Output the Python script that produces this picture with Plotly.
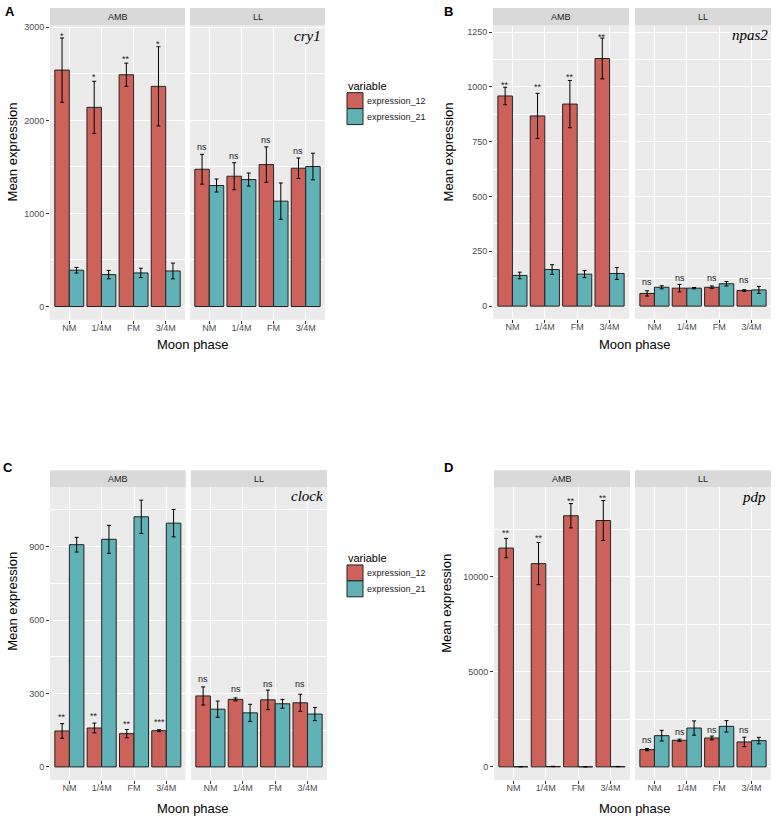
import plotly.graph_objects as go

W, H = 784, 819

phases = ["NM", "1/4M", "FM", "3/4M"]
series_names = ["expression_12", "expression_21"]
genes = ["cry1", "npas2", "clock", "pdp"]
panel_letters = ["A", "B", "C", "D"]

# ---- cry1 (A)
cry1_amb_12 = [2540, 2140, 2490, 2365]
cry1_amb_12_err = [345, 280, 125, 425]
cry1_amb_21 = [390, 343, 361, 382]
cry1_amb_21_err = [30, 45, 50, 85]
cry1_ll_12 = [1475, 1400, 1525, 1486]
cry1_ll_12_err = [160, 145, 190, 110]
cry1_ll_21 = [1300, 1364, 1132, 1504]
cry1_ll_21_err = [70, 70, 195, 143]
cry1_amb_sig = ["*", "*", "**", "*"]
cry1_amb_sig_y = [2939, 2500, 2689, 2850]
cry1_ll_sig = ["ns", "ns", "ns", "ns"]
cry1_ll_sig_y = [1718, 1618, 1789, 1671]

# ---- npas2 (B)
npas2_amb_12 = [959, 868, 922, 1130]
npas2_amb_12_err = [40, 103, 108, 93]
npas2_amb_21 = [140, 167, 146, 149]
npas2_amb_21_err = [15, 22, 16, 27]
npas2_ll_12 = [58, 82, 86, 71]
npas2_ll_12_err = [12, 17, 6, 4]
npas2_ll_21 = [86, 82, 102, 74]
npas2_ll_21_err = [7, 3, 10, 16]
npas2_amb_sig = ["**", "**", "**", "**"]
npas2_amb_sig_y = [1024, 1013, 1060, 1244]
npas2_ll_sig = ["ns", "ns", "ns", "ns"]
npas2_ll_sig_y = [109, 129, 129, 120]

# ---- clock (C)
clock_amb_12 = [147, 159, 136, 148]
clock_amb_12_err = [30, 20, 17, 4]
clock_amb_21 = [908, 930, 1022, 996]
clock_amb_21_err = [30, 57, 68, 56]
clock_ll_12 = [290, 276, 274, 262]
clock_ll_12_err = [37, 6, 40, 35]
clock_ll_21 = [236, 221, 258, 216]
clock_ll_21_err = [33, 35, 18, 27]
clock_amb_sig = ["**", "**", "**", "***"]
clock_amb_sig_y = [217, 221, 187, 197]
clock_ll_sig = ["ns", "ns", "ns", "ns"]
clock_ll_sig_y = [360, 319, 338, 337]

# ---- pdp (D)
pdp_amb_12 = [11520, 10700, 13220, 12970]
pdp_amb_12_err = [507, 1110, 640, 1050]
pdp_amb_21 = [10, 20, 5, 15]
pdp_amb_21_err = [5, 10, 3, 8]
pdp_ll_12 = [909, 1399, 1521, 1311]
pdp_ll_12_err = [60, 60, 100, 250]
pdp_ll_21 = [1643, 2045, 2133, 1381]
pdp_ll_21_err = [280, 375, 300, 170]
pdp_amb_sig = ["**", "**", "**", "**"]
pdp_amb_sig_y = [12448, 12220, 14143, 14318]
pdp_ll_sig = ["ns", "ns", "ns", "ns"]
pdp_ll_sig_y = [1434, 1836, 1923, 1958]

y_ranges = [[-143, 3018], [-58, 1280], [-54, 1144], [-699, 14738]]
y_dticks = [1000, 250, 300, 5000]

data = [
    dict(amb=[(cry1_amb_12, cry1_amb_12_err), (cry1_amb_21, cry1_amb_21_err)],
         ll=[(cry1_ll_12, cry1_ll_12_err), (cry1_ll_21, cry1_ll_21_err)],
         amb_sig=(cry1_amb_sig, cry1_amb_sig_y), ll_sig=(cry1_ll_sig, cry1_ll_sig_y)),
    dict(amb=[(npas2_amb_12, npas2_amb_12_err), (npas2_amb_21, npas2_amb_21_err)],
         ll=[(npas2_ll_12, npas2_ll_12_err), (npas2_ll_21, npas2_ll_21_err)],
         amb_sig=(npas2_amb_sig, npas2_amb_sig_y), ll_sig=(npas2_ll_sig, npas2_ll_sig_y)),
    dict(amb=[(clock_amb_12, clock_amb_12_err), (clock_amb_21, clock_amb_21_err)],
         ll=[(clock_ll_12, clock_ll_12_err), (clock_ll_21, clock_ll_21_err)],
         amb_sig=(clock_amb_sig, clock_amb_sig_y), ll_sig=(clock_ll_sig, clock_ll_sig_y)),
    dict(amb=[(pdp_amb_12, pdp_amb_12_err), (pdp_amb_21, pdp_amb_21_err)],
         ll=[(pdp_ll_12, pdp_ll_12_err), (pdp_ll_21, pdp_ll_21_err)],
         amb_sig=(pdp_amb_sig, pdp_amb_sig_y), ll_sig=(pdp_ll_sig, pdp_ll_sig_y)),
]

# ---- layout geometry (pixels)
panels = [
    dict(amb=(50, 185), ll=(190, 325), plot=(22.7, 318), strip=(5, 22.7),
         ytitle=(12, 150), xtitle=(193, 343), letter=(10, 9), gene=(323, 33),
         legend=(347, 83)),
    dict(amb=(493, 629), ll=(635, 771), plot=(22.7, 317), strip=(5, 22.7),
         ytitle=(448, 150), xtitle=(635, 343), letter=(448, 9), gene=(770, 32),
         legend=None),
    dict(amb=(50, 185.7), ll=(191, 327), plot=(485.7, 780), strip=(469, 485.7),
         ytitle=(13, 601), xtitle=(193, 808), letter=(8, 466), gene=(325, 495),
         legend=(347, 557)),
    dict(amb=(494, 630), ll=(635, 771), plot=(485.7, 780), strip=(469, 485.7),
         ytitle=(447, 603), xtitle=(635, 808), letter=(448, 466), gene=(768, 496),
         legend=None),
]

colors = ["#CD625B", "#60B2B6"]
FONT = "Liberation Sans"

def px(x):
    return x / W

def py(y):
    return 1 - y / H

fig = go.Figure()
layout = dict(
    width=W, height=H, margin=dict(l=0, r=0, t=0, b=0),
    paper_bgcolor="white", plot_bgcolor="#EBEBEB",
    barmode="group", bargap=0.1, bargroupgap=0, showlegend=False,
    font=dict(family=FONT, color="#1A1A1A"),
)
shapes = []
annotations = []

for p, (spec, d) in enumerate(zip(panels, data)):
    for f, facet in enumerate(["amb", "ll"]):
        k = 2 * p + f + 1
        xname = "x" if k == 1 else f"x{k}"
        yname = "y" if k == 1 else f"y{k}"
        for s in range(2):
            vals, errs = d[facet][s]
            fig.add_trace(go.Bar(
                x=phases, y=vals, name=series_names[s],
                xaxis=xname, yaxis=yname,
                marker=dict(color=colors[s], line=dict(color="#222222", width=1)),
                error_y=dict(type="data", array=errs, color="black", thickness=1, width=2),
            ))
        x0, x1 = spec[facet]
        top, bot = spec["plot"]
        xa = dict(domain=[px(x0), px(x1)], anchor=yname, type="category",
                  range=[-0.6, 3.6], showgrid=True, gridcolor="white", gridwidth=1.1,
                  ticks="outside", ticklen=3, tickcolor="#333333", tickwidth=1,
                  ticklabelstandoff=-4,
                  tickfont=dict(size=9, color="#4D4D4D", family=FONT),
                  showline=False, zeroline=False, fixedrange=True)
        ya = dict(domain=[py(bot), py(top)], anchor=xname, range=y_ranges[p],
                  tick0=0, dtick=y_dticks[p], tickformat="d",
                  showgrid=True, gridcolor="white", gridwidth=1.1,
                  minor=dict(dtick=y_dticks[p] / 2, showgrid=True, gridcolor="white", gridwidth=0.5),
                  zeroline=False, showline=False, fixedrange=True)
        if f == 0:
            ya.update(ticks="outside", ticklen=3, tickcolor="#333333", tickwidth=1,
                      tickfont=dict(size=9, color="#4D4D4D", family=FONT))
        else:
            ya.update(showticklabels=False, ticks="")
        layout["xaxis" if k == 1 else f"xaxis{k}"] = xa
        layout["yaxis" if k == 1 else f"yaxis{k}"] = ya

        # strip
        s0, s1 = spec["strip"]
        shapes.append(dict(type="rect", xref="paper", yref="paper",
                           x0=px(x0), x1=px(x1), y0=py(s1), y1=py(s0),
                           fillcolor="#D9D9D9", line=dict(width=0), layer="below"))
        annotations.append(dict(text="AMB" if f == 0 else "LL", xref="paper", yref="paper",
                                x=px((x0 + x1) / 2), y=py((s0 + s1) / 2),
                                xanchor="center", yanchor="middle", showarrow=False,
                                font=dict(size=9, color="#1A1A1A", family=FONT)))
        # significance labels
        labels, ly = d[facet + "_sig"]
        for i, (lab, yv) in enumerate(zip(labels, ly)):
            annotations.append(dict(text=lab, xref=xname, yref=yname, x=i - 0.225, y=yv,
                                    xanchor="center", yanchor="middle", showarrow=False,
                                    yshift=-3 if "*" in lab else 0,
                                    font=dict(size=9, color="#1A1A1A", family=FONT)))

    # gene label
    gx, gy = spec["gene"]
    annotations.append(dict(text=f"<i>{genes[p]}</i>", xref="paper", yref="paper",
                            x=px(gx), y=py(gy), xanchor="right", yanchor="middle",
                            showarrow=False,
                            font=dict(size=15, color="black", family="Liberation Serif")))
    # axis titles
    tx, ty = spec["ytitle"]
    annotations.append(dict(text="Mean expression", xref="paper", yref="paper",
                            x=px(tx), y=py(ty), xanchor="center", yanchor="middle",
                            textangle=-90, showarrow=False,
                            font=dict(size=13, color="black", family=FONT)))
    tx, ty = spec["xtitle"]
    annotations.append(dict(text="Moon phase", xref="paper", yref="paper",
                            x=px(tx), y=py(ty), xanchor="center", yanchor="middle",
                            showarrow=False,
                            font=dict(size=13, color="black", family=FONT)))
    lx, ly_ = spec["letter"]
    annotations.append(dict(text=f"<b>{panel_letters[p]}</b>", xref="paper", yref="paper",
                            x=px(lx), y=py(ly_), xanchor="center", yanchor="middle",
                            showarrow=False,
                            font=dict(size=13, color="black", family=FONT)))
    # legend (drawn as keys + labels, ggplot style)
    if spec["legend"] is not None:
        lgx, lgy = spec["legend"]
        annotations.append(dict(text="variable", xref="paper", yref="paper",
                                x=px(lgx - 1), y=py(lgy), xanchor="left", yanchor="middle",
                                showarrow=False,
                                font=dict(size=11, color="black", family=FONT)))
        for s in range(2):
            ktop = lgy + 7 + 16 * s
            shapes.append(dict(type="rect", xref="paper", yref="paper",
                               x0=px(lgx), x1=px(lgx + 16), y0=py(ktop + 16), y1=py(ktop),
                               fillcolor=colors[s], line=dict(color="#222222", width=1)))
            annotations.append(dict(text=series_names[s], xref="paper", yref="paper",
                                    x=px(lgx + 18), y=py(ktop + 8), xanchor="left",
                                    yanchor="middle", showarrow=False,
                                    font=dict(size=9, color="#1A1A1A", family=FONT)))

layout["shapes"] = shapes
layout["annotations"] = annotations
fig.update_layout(**layout)

fig.write_html("out.html", config={"displayModeBar": False},
               post_script="document.body.style.margin='0px';document.body.style.padding='0px';")
